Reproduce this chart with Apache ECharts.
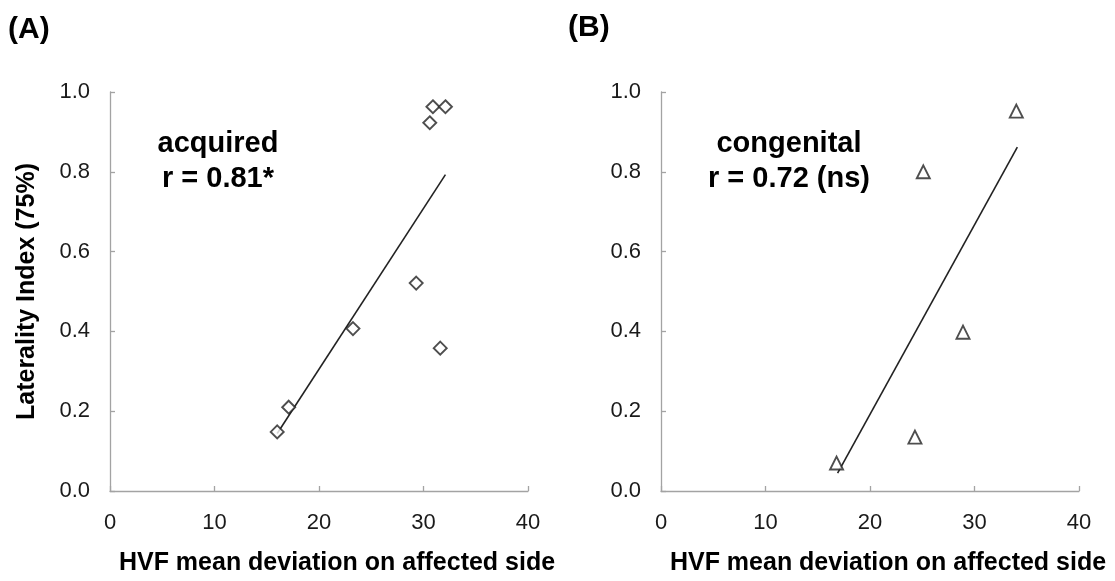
<!DOCTYPE html>
<html>
<head>
<meta charset="utf-8">
<script src="https://cdn.jsdelivr.net/npm/echarts@6/dist/echarts.min.js"></script>
<style>
  html, body { margin: 0; padding: 0; background: #fff; }
  #chart { width: 1115px; height: 581px; }
</style>
</head>
<body>
<div id="chart"></div>
<script>
// Acquired group: HVF mean deviation (x) vs laterality index (y)
const acquiredX = [16.0, 17.1, 23.25, 29.3, 30.6, 30.9, 31.6, 32.1];
const acquiredY = [0.148, 0.21, 0.407, 0.521, 0.923, 0.963, 0.358, 0.963];
// Least-squares fit line endpoints for the acquired group
const acquiredFitX = [16.0, 32.1];
const acquiredFitY = [0.144, 0.793];

// Congenital group
const congenitalX = [16.8, 24.3, 25.1, 28.9, 34.0];
const congenitalY = [0.07, 0.135, 0.80, 0.398, 0.952];
const congenitalFitX = [16.9, 34.1];
const congenitalFitY = [0.045, 0.862];

// Axis ticks and labels
const xTicks = [0, 10, 20, 30, 40];
const yTicks = [0.0, 0.2, 0.4, 0.6, 0.8, 1.0];
const panelLabels = ['(A)', '(B)'];
const groupNames = ['acquired', 'congenital'];
const rLabels = ['r = 0.81*', 'r = 0.72 (ns)'];
const xName = 'HVF mean deviation on affected side';
const yName = 'Laterality Index (75%)';

const FONT = '"Liberation Sans", Arial, Helvetica, sans-serif';
const AXIS_GREY = '#a3a3a3';
const INK = '#1a1a1a';

const pairs = (xs, ys) => xs.map((x, i) => [x, ys[i]]);

function xAxis(gridIndex) {
  return {
    type: 'value', gridIndex,
    min: xTicks[0], max: xTicks[xTicks.length - 1], interval: xTicks[1] - xTicks[0],
    name: xName, nameLocation: 'middle', nameGap: 60,
    nameTextStyle: { fontFamily: FONT, fontWeight: 'bold', fontSize: 25, color: '#000', padding: [0, 0, 0, 36] },
    axisLine: { show: true, lineStyle: { color: AXIS_GREY, width: 1.3 } },
    axisTick: { show: true, inside: true, length: 5, lineStyle: { color: AXIS_GREY, width: 1.3 } },
    axisLabel: { fontFamily: FONT, fontSize: 22, color: INK, margin: 21 },
    splitLine: { show: false }
  };
}

function yAxis(gridIndex, withName) {
  return {
    type: 'value', gridIndex,
    min: yTicks[0], max: yTicks[yTicks.length - 1], interval: 0.2,
    name: withName ? yName : '', nameLocation: 'middle', nameGap: 70,
    nameTextStyle: { fontFamily: FONT, fontWeight: 'bold', fontSize: 25, color: '#000' },
    axisLine: { show: true, lineStyle: { color: AXIS_GREY, width: 1.3 } },
    axisTick: { show: true, inside: true, length: 5, lineStyle: { color: AXIS_GREY, width: 1.3 } },
    axisLabel: { fontFamily: FONT, fontSize: 22, color: INK, margin: 20,
                 formatter: v => v.toFixed(1) },
    splitLine: { show: false }
  };
}

const markerStyle = { color: '#ffffff', borderColor: '#222222', borderWidth: 1.9 };
const panelTitle = { fontFamily: FONT, fontWeight: 'bold', fontSize: 30, color: '#000' };
const noteFont = 'bold 29px ' + FONT;

const option = {
  backgroundColor: '#ffffff',
  animation: false,
  grid: [
    { left: 110, top: 92, width: 418, height: 405 },
    { left: 661, top: 92, width: 418, height: 405 }
  ],
  xAxis: [xAxis(0), xAxis(1)],
  yAxis: [yAxis(0, true), yAxis(1, false)],
  title: [
    { text: panelLabels[0], left: 3, top: 10, textStyle: panelTitle },
    { text: panelLabels[1], left: 563, top: 8, textStyle: panelTitle }
  ],
  graphic: [
    { type: 'text', x: 218, y: 161,
      style: { text: groupNames[0] + '\n' + rLabels[0], fill: '#000',
               font: noteFont, textAlign: 'center', textVerticalAlign: 'middle', lineHeight: 35 } },
    { type: 'text', x: 789, y: 161,
      style: { text: groupNames[1] + '\n' + rLabels[1], fill: '#000',
               font: noteFont, textAlign: 'center', textVerticalAlign: 'middle', lineHeight: 35 } }
  ],
  series: [
    { type: 'line', xAxisIndex: 0, yAxisIndex: 0, data: pairs(acquiredFitX, acquiredFitY),
      symbol: 'none', lineStyle: { color: '#222', width: 1.6 }, z: 2 },
    { type: 'scatter', xAxisIndex: 0, yAxisIndex: 0, data: pairs(acquiredX, acquiredY),
      symbol: 'diamond', symbolSize: 13, itemStyle: markerStyle, z: 3 },
    { type: 'line', xAxisIndex: 1, yAxisIndex: 1, data: pairs(congenitalFitX, congenitalFitY),
      symbol: 'none', lineStyle: { color: '#222', width: 1.6 }, z: 2 },
    { type: 'scatter', xAxisIndex: 1, yAxisIndex: 1, data: pairs(congenitalX, congenitalY),
      symbol: 'triangle', symbolSize: 13, itemStyle: markerStyle, z: 3 }
  ]
};

const chart = echarts.init(document.getElementById('chart'), null, { renderer: 'canvas' });
chart.setOption(option);
</script>
</body>
</html>
